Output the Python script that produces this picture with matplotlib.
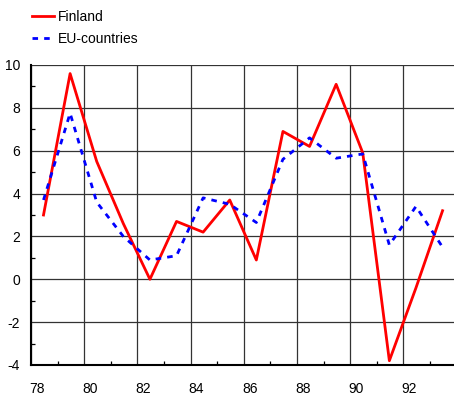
import matplotlib.pyplot as plt
import matplotlib.transforms as mtransforms
import numpy as np

plt.rcParams['font.family'] = ['Liberation Sans', 'DejaVu Sans']
plt.rcParams['axes.unicode_minus'] = False

years = [78, 79, 80, 81, 82, 83, 84, 85, 86, 87, 88, 89, 90, 91, 92, 93]
finland = [3.0, 9.6, 5.5, 2.6, 0.0, 2.7, 2.2, 3.7, 0.9, 6.9, 6.2, 9.1, 5.9, -3.8, -0.4, 3.2]
eu = [3.7, 7.75, 3.6, 2.0, 0.9, 1.1, 3.8, 3.5, 2.65, 5.6, 6.6, 5.65, 5.85, 1.6, 3.4, 1.5]
xtick_labels = ['78', '80', '82', '84', '86', '88', '90', '92']

fig = plt.figure(figsize=(4.54, 4.01), dpi=100)
ax = fig.add_axes([31/454, 1 - 365/401, 1 - 31/454, 300/401])

# points sit in the middle of each year slot
x = np.array(years) + 0.47
ax.plot(x, finland, color='#ff0000', lw=2.0, label='Finland')
ax.plot(x, eu, color='#0000ff', lw=2.0, linestyle=(0, (2, 2.2)), label='EU-countries')

ax.set_xlim(78, 93.9)
ax.set_ylim(-4, 10)
ax.set_xticks(np.arange(78, 93, 2))
ax.set_xticklabels(xtick_labels)
ax.set_xticks(np.arange(79, 94, 2), minor=True)
ax.set_yticks(np.arange(-4, 11, 2))
ax.set_yticks(np.arange(-3, 10, 2), minor=True)

ax.grid(True, which='major', color='#333333', lw=0.9)
ax.set_axisbelow(True)
ax.tick_params(which='major', length=0, labelsize=10)
ax.tick_params(axis='x', which='major', pad=12)
ax.tick_params(axis='y', which='major', pad=8)
ax.tick_params(which='minor', direction='in', length=3, width=0.9)

offset = mtransforms.ScaledTranslation(6/100, 0, fig.dpi_scale_trans)
for lbl in ax.get_xticklabels():
    lbl.set_transform(lbl.get_transform() + offset)

for s in ['top', 'right']:
    ax.spines[s].set_visible(False)
for s in ['left', 'bottom']:
    ax.spines[s].set_linewidth(1.5)
    ax.spines[s].set_color('black')

fig.legend(loc='upper left', bbox_to_anchor=(0.043, 1.006), frameon=False,
           fontsize=10, handlelength=1.55, handletextpad=0.3, labelspacing=0.55)

fig.savefig('out.png', dpi=100)
